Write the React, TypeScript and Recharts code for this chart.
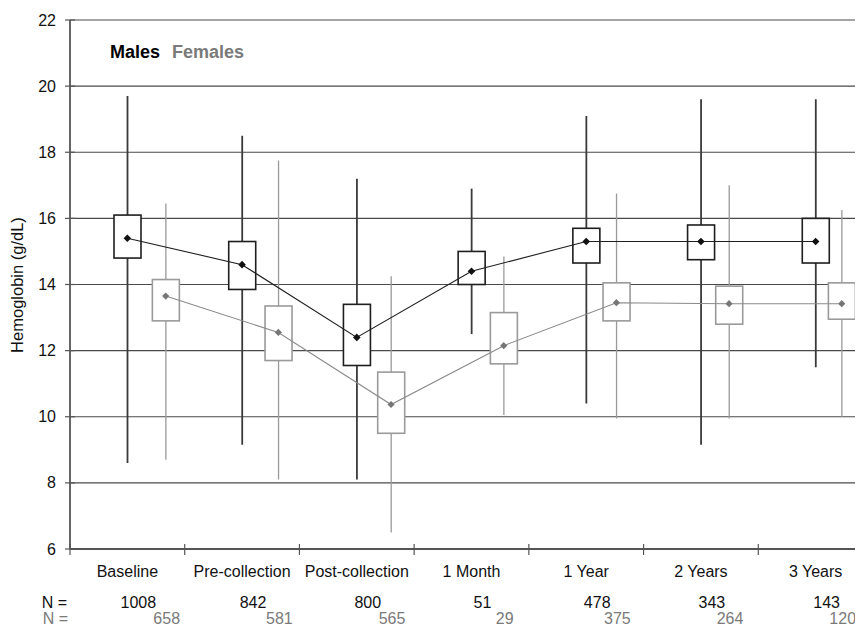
import React from 'react';
import { ComposedChart, XAxis, YAxis, CartesianGrid, Bar, Line } from 'recharts';

const categories = ['Baseline', 'Pre-collection', 'Post-collection', '1 Month', '1 Year', '2 Years', '3 Years'];

const maleMin = [8.6, 9.15, 8.1, 12.5, 10.4, 9.15, 11.5];
const maleQ1 = [14.8, 13.85, 11.55, 14.0, 14.65, 14.75, 14.65];
const maleMean = [15.4, 14.6, 12.4, 14.4, 15.3, 15.3, 15.3];
const maleQ3 = [16.1, 15.3, 13.4, 15.0, 15.7, 15.8, 16.0];
const maleMax = [19.7, 18.5, 17.2, 16.9, 19.1, 19.6, 19.6];

const femaleMin = [8.7, 8.1, 6.5, 10.05, 9.95, 9.95, 10.0];
const femaleQ1 = [12.9, 11.7, 9.5, 11.6, 12.9, 12.8, 12.95];
const femaleMean = [13.65, 12.55, 10.37, 12.15, 13.45, 13.42, 13.42];
const femaleQ3 = [14.15, 13.35, 11.35, 13.15, 14.05, 13.95, 14.05];
const femaleMax = [16.45, 17.75, 14.25, 14.85, 16.75, 17.0, 16.25];

const maleN = [1008, 842, 800, 51, 478, 343, 143];
const femaleN = [658, 581, 565, 29, 375, 264, 120];

const yTicks = [6, 8, 10, 12, 14, 16, 18, 20, 22];
const mainTicks = [0, 0.5, 1, 1.5, 2, 2.5, 3, 3.5, 4, 4.5, 5, 5.5, 6, 6.5, 7];
const maleTicks = [0.5, 1.5, 2.5, 3.5, 4.5, 5.5, 6.5];
const femaleTicks = [0, 1, 2, 3, 4, 5, 6];
const femaleDomain = [-0.8494, 6.2776];

const data = categories.map((name, i) => ({
  name,
  xm: i + 0.5,
  xf: i,
  mWhisker: [maleMin[i], maleMax[i]],
  mBox: [maleQ1[i], maleQ3[i]],
  mMean: maleMean[i],
  fWhisker: [femaleMin[i], femaleMax[i]],
  fBox: [femaleQ1[i], femaleQ3[i]],
  fMean: femaleMean[i],
}));

const FONT = '"Liberation Sans", Arial, sans-serif';
const MALE = '#1e1e1e';
const MALE_W = '#3a3a3a';
const FEMALE = '#9a9a9a';
const FEMALE_MARK = '#767676';
const FEMALE_TEXT = '#7a7a7a';
const AXIS = '#555555';
const FEMALE_ROW_Y = 616;

const makeWhisker = (color: string, sw: number) => (props: any) => {
  const { x, y, width, height } = props;
  if (x == null || y == null) return <g />;
  const cx = x + width / 2;
  const top = Math.min(y, y + height);
  const bot = Math.max(y, y + height);
  return <line x1={cx} x2={cx} y1={top} y2={bot} stroke={color} strokeWidth={sw} />;
};

const makeBox = (color: string, sw: number) => (props: any) => {
  const { x, y, width, height } = props;
  if (x == null || y == null) return <g />;
  const top = Math.min(y, y + height);
  const h = Math.abs(height);
  return <rect x={x} y={top} width={width} height={h} fill="#ffffff" stroke={color} strokeWidth={sw} />;
};

const makeDiamond = (color: string, r: number) => (props: any) => {
  const { cx, cy, index } = props;
  if (cx == null || cy == null) return <g key={`d${index}`} />;
  return (
    <path
      key={`d${index}`}
      d={`M${cx},${cy - r} L${cx + r},${cy} L${cx},${cy + r} L${cx - r},${cy} Z`}
      fill={color}
      stroke="none"
    />
  );
};

const MainTick = (props: any) => {
  const { x, y, payload } = props;
  const v = payload.value as number;
  if (Number.isInteger(v)) {
    return (
      <g>
        <line x1={x} x2={x} y1={y - 5} y2={y + 6} stroke={AXIS} strokeWidth={1.2} />
        {v === 0 && (
          <g>
            <text x={x - 3} y={y + 59} textAnchor="end" fontSize={16} fontFamily={FONT} fill="#111">
              N =
            </text>
            <text x={x - 2} y={FEMALE_ROW_Y} textAnchor="end" fontSize={16} fontFamily={FONT} fill={FEMALE_TEXT}>
              N =
            </text>
          </g>
        )}
      </g>
    );
  }
  const i = Math.floor(v);
  return (
    <g>
      <text x={x} y={y + 28} textAnchor="middle" fontSize={16} fontFamily={FONT} fill="#111">
        {categories[i]}
      </text>
      <text x={x + 11} y={y + 59} textAnchor="middle" fontSize={16} fontFamily={FONT} fill="#111">
        {maleN[i]}
      </text>
    </g>
  );
};

const FemaleTick = (props: any) => {
  const { x, payload } = props;
  const i = payload.value as number;
  return (
    <text x={x + 1} y={FEMALE_ROW_Y} textAnchor="middle" fontSize={16} fontFamily={FONT} fill={FEMALE_TEXT}>
      {femaleN[i]}
    </text>
  );
};

const YTick = (props: any) => {
  const { x, y, payload } = props;
  return (
    <g>
      <line x1={x - 5} x2={x + 5} y1={y} y2={y} stroke={AXIS} strokeWidth={1.2} />
      <text x={x - 14} y={y + 5.5} textAnchor="end" fontSize={16} fontFamily={FONT} fill="#111">
        {payload.value}
      </text>
    </g>
  );
};

export default function App() {
  return (
    <div style={{ position: 'relative', width: 855, height: 620, overflow: 'hidden', fontFamily: FONT }}>
      <ComposedChart
        width={880}
        height={620}
        data={data}
        margin={{ top: 12, right: 15, bottom: 0, left: 0 }}
      >
        <CartesianGrid vertical={false} stroke="#4a4a4a" strokeWidth={1.2} />
        <XAxis
          type="number"
          dataKey="xm"
          domain={[0, 7]}
          ticks={mainTicks}
          interval={0}
          tickLine={false}
          tickSize={0}
          tickMargin={0}
          tick={<MainTick />}
          axisLine={{ stroke: AXIS, strokeWidth: 1.8 }}
          height={1}
        />
        <XAxis
          xAxisId="fl"
          type="number"
          dataKey="xf"
          domain={femaleDomain}
          ticks={femaleTicks}
          interval={0}
          allowDataOverflow
          tickLine={false}
          tickSize={0}
          tickMargin={0}
          axisLine={false}
          tick={<FemaleTick />}
          height={78}
        />
        <XAxis xAxisId="mw" type="number" dataKey="xm" domain={[0, 7]} ticks={maleTicks} height={0} hide />
        <XAxis xAxisId="mb" type="number" dataKey="xm" domain={[0, 7]} ticks={maleTicks} height={0} hide />
        <XAxis xAxisId="fw" type="number" dataKey="xf" domain={femaleDomain} ticks={femaleTicks} allowDataOverflow height={0} hide />
        <XAxis xAxisId="fb" type="number" dataKey="xf" domain={femaleDomain} ticks={femaleTicks} allowDataOverflow height={0} hide />
        <YAxis
          type="number"
          domain={[6, 22]}
          ticks={yTicks}
          interval={0}
          width={62}
          tickLine={false}
          tickSize={0}
          tickMargin={0}
          tick={<YTick />}
          axisLine={{ stroke: AXIS, strokeWidth: 1.8 }}
        />
        <Bar xAxisId="mw" dataKey="mWhisker" barSize={27} shape={makeWhisker(MALE_W, 1.8)} isAnimationActive={false} />
        <Bar xAxisId="fw" dataKey="fWhisker" barSize={27} shape={makeWhisker(FEMALE, 1.3)} isAnimationActive={false} />
        <Bar xAxisId="mb" dataKey="mBox" barSize={27} shape={makeBox(MALE, 1.6)} isAnimationActive={false} />
        <Bar xAxisId="fb" dataKey="fBox" barSize={27} shape={makeBox(FEMALE, 1.6)} isAnimationActive={false} />
        <Line
          dataKey="mMean"
          type="linear"
          stroke={MALE}
          strokeWidth={1.1}
          dot={makeDiamond('#111', 3.8)}
          activeDot={false}
          isAnimationActive={false}
        />
        <Line
          xAxisId="fl"
          dataKey="fMean"
          type="linear"
          stroke="#8a8a8a"
          strokeWidth={1.1}
          dot={makeDiamond(FEMALE_MARK, 3.6)}
          activeDot={false}
          isAnimationActive={false}
        />
      </ComposedChart>
      <div
        style={{
          position: 'absolute',
          left: 102,
          top: 35,
          fontSize: 18,
          lineHeight: '18px',
          fontWeight: 'bold',
          whiteSpace: 'nowrap',
        }}
      >
        <span style={{ color: '#000' }}>Males</span>
        <span style={{ color: FEMALE_TEXT, marginLeft: 12 }}>Females</span>
      </div>
      <div
        style={{
          position: 'absolute',
          left: 9,
          top: 277,
          fontSize: 16.5,
          lineHeight: '17px',
          whiteSpace: 'nowrap',
          color: '#111',
          transform: 'translate(-50%, -50%) rotate(-90deg)',
        }}
      >
        Hemoglobin (g/dL)
      </div>
    </div>
  );
}
